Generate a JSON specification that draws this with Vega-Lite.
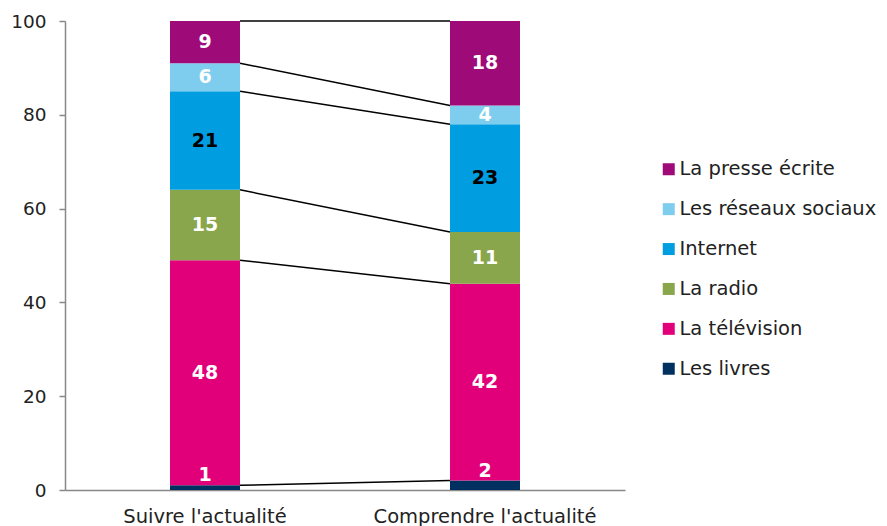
{
  "$schema": "https://vega.github.io/schema/vega-lite/v6.json",
  "width": 560,
  "height": 469,
  "autosize": {"type": "none"},
  "padding": {"left": 65, "top": 21, "right": 262, "bottom": 36},
  "config": {
    "view": {"stroke": null},
    "font": "DejaVu Sans",
    "axisX": {"title": null, "labelAngle": 0, "ticks": false, "domainColor": "#888888", "domainWidth": 1.5, "labelFontSize": 19.5, "labelPadding": 17, "labelColor": "#222222", "grid": false, "labelLimit": 0},
    "axisY": {"title": null, "grid": false, "tickSize": 6, "tickColor": "#888888", "domainColor": "#888888", "domainWidth": 1.5, "tickWidth": 1.5, "labelFontSize": 18.5, "labelPadding": 13, "labelColor": "#222222"}
  },
  "data": {
    "values": [
      {"cat": "Suivre l'actualité", "series": "Les livres", "value": 1},
      {"cat": "Suivre l'actualité", "series": "La télévision", "value": 48},
      {"cat": "Suivre l'actualité", "series": "La radio", "value": 15},
      {"cat": "Suivre l'actualité", "series": "Internet", "value": 21},
      {"cat": "Suivre l'actualité", "series": "Les réseaux sociaux", "value": 6},
      {"cat": "Suivre l'actualité", "series": "La presse écrite", "value": 9},
      {"cat": "Comprendre l'actualité", "series": "Les livres", "value": 2},
      {"cat": "Comprendre l'actualité", "series": "La télévision", "value": 42},
      {"cat": "Comprendre l'actualité", "series": "La radio", "value": 11},
      {"cat": "Comprendre l'actualité", "series": "Internet", "value": 23},
      {"cat": "Comprendre l'actualité", "series": "Les réseaux sociaux", "value": 4},
      {"cat": "Comprendre l'actualité", "series": "La presse écrite", "value": 18}
    ]
  },
  "transform": [
    {"calculate": "indexof(['Les livres','La télévision','La radio','Internet','Les réseaux sociaux','La presse écrite'], datum.series)", "as": "rank"},
    {"stack": "value", "groupby": ["cat"], "sort": [{"field": "rank", "order": "ascending"}], "as": ["y0", "y1"]},
    {"calculate": "(datum.y0 + datum.y1) / 2", "as": "mid"}
  ],
  "layer": [
    {
      "data": {
        "values": [
          {"series": "La presse écrite", "from": "Suivre l'actualité", "to": "Comprendre l'actualité", "top_from": 100, "top_to": 100},
          {"series": "Les réseaux sociaux", "from": "Suivre l'actualité", "to": "Comprendre l'actualité", "top_from": 91, "top_to": 82},
          {"series": "Internet", "from": "Suivre l'actualité", "to": "Comprendre l'actualité", "top_from": 85, "top_to": 78},
          {"series": "La radio", "from": "Suivre l'actualité", "to": "Comprendre l'actualité", "top_from": 64, "top_to": 55},
          {"series": "La télévision", "from": "Suivre l'actualité", "to": "Comprendre l'actualité", "top_from": 49, "top_to": 44},
          {"series": "Les livres", "from": "Suivre l'actualité", "to": "Comprendre l'actualité", "top_from": 1, "top_to": 2}
        ]
      },
      "transform": [],
      "mark": {"type": "rule", "color": "black", "strokeWidth": 1.5},
      "encoding": {
        "x": {"field": "from", "type": "nominal", "bandPosition": 1, "title": null},
        "x2": {"field": "to", "bandPosition": 0},
        "y": {"field": "top_from", "type": "quantitative", "title": null, "axis": {"values": [0, 20, 40, 60, 80, 100]}},
        "y2": {"field": "top_to"}
      }
    },
    {
      "mark": {"type": "bar"},
      "encoding": {
        "x": {"field": "cat", "type": "nominal", "title": null, "scale": {"domain": ["Suivre l'actualité", "Comprendre l'actualité"], "paddingInner": 0.75, "paddingOuter": 0.375}},
        "y": {"field": "y0", "type": "quantitative", "title": null, "scale": {"domain": [0, 100], "nice": false}, "axis": {"values": [0, 20, 40, 60, 80, 100]}},
        "y2": {"field": "y1"},
        "color": {
          "field": "series",
          "type": "nominal",
          "scale": {
            "domain": ["La presse écrite", "Les réseaux sociaux", "Internet", "La radio", "La télévision", "Les livres"],
            "range": ["#9E0A78", "#7FCDEE", "#009EE0", "#8AA64C", "#E2007A", "#00305F"]
          },
          "legend": {
            "title": null,
            "orient": "none",
            "legendX": 594,
            "legendY": 138.5,
            "symbolType": "square",
            "symbolSize": 144,
            "symbolStrokeWidth": 0,
            "labelFontSize": 19.5,
            "labelColor": "#222222",
            "labelOffset": 1,
            "labelLimit": 0,
            "rowPadding": 18.9
          }
        }
      }
    },
    {
      "transform": [{"filter": "datum.series !== 'Les livres'"}],
      "mark": {"type": "text", "fontSize": 19, "fontWeight": "bold", "baseline": "middle", "align": "center"},
      "encoding": {
        "x": {"field": "cat", "type": "nominal", "title": null},
        "y": {"field": "mid", "type": "quantitative", "title": null},
        "text": {"field": "value", "type": "quantitative"},
        "color": {"condition": {"test": "datum.series === 'Internet'", "value": "black"}, "value": "white"}
      }
    },
    {
      "transform": [{"filter": "datum.series === 'Les livres'"}],
      "mark": {"type": "text", "fontSize": 19, "fontWeight": "bold", "baseline": "bottom", "align": "center", "dy": 0, "color": "white"},
      "encoding": {
        "x": {"field": "cat", "type": "nominal", "title": null},
        "y": {"field": "y1", "type": "quantitative", "title": null},
        "text": {"field": "value", "type": "quantitative"}
      }
    }
  ]
}
